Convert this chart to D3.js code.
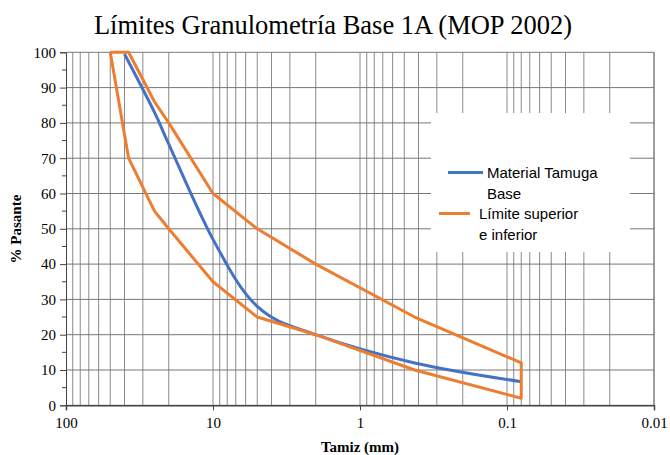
<!DOCTYPE html>
<html>
  <head>
    <meta charset="utf-8">
    <script src="https://d3js.org/d3.v7.min.js"></script>
    <style type="text/css">
      body { margin: 0; background: #ffffff; }
      svg text { fill: #000000; }
    </style>
  </head>
<body>
  <script type="text/javascript">
    // Sieve openings (mm) and % passing
    var sieves = [50, 37.5, 25, 20, 10, 5, 2, 0.425, 0.08];
    var lowerLimit = [100, 70, 55, 50, 35, 25, 20, 10, 2];
    var upperLimit = [100, 100, 86, 80, 60, 50, 40, 25, 12];

    var materialSieves = [40, 25, 20, 10, 5, 2, 0.425, 0.08];
    var materialPass = [99.5, 83, 74, 47, 28, 20, 12, 6.7];

    var xTicks = [100, 10, 1, 0.1, 0.01];
    var yTicks = [0, 10, 20, 30, 40, 50, 60, 70, 80, 90, 100];
    var seriesNames = ["Material Tamuga\nBase", "Límite superior\ne inferior"];

    var width = 670, height = 455;
    // plot area edges (note: "top" is reserved on window)
    var plotL = 66, plotR = 654, plotT = 52.3, plotB = 405.3;

    var svg = d3.select("body")
      .append("svg")
      .attr("width", width)
      .attr("height", height);

    var x = d3.scaleLog().domain([100, 0.01]).range([plotL, plotR]);
    var y = d3.scaleLinear().domain([0, 100]).range([plotB, plotT]);

    // minor log values 2..9 per decade plus decades
    var gridVals = [];
    [10, 1, 0.1, 0.01].forEach(function(d) {
      for (var k = 1; k <= 9; k++) gridVals.push(d * k);
    });

    var grid = svg.append("g").attr("class", "grid");
    grid.selectAll("line.v")
      .data(gridVals)
      .enter().append("line")
      .attr("x1", function(d) { return x(d); })
      .attr("x2", function(d) { return x(d); })
      .attr("y1", plotT)
      .attr("y2", plotB)
      .attr("stroke", "#8a8a8a")
      .attr("stroke-width", 1);

    grid.selectAll("line.h")
      .data(yTicks)
      .enter().append("line")
      .attr("x1", plotL)
      .attr("x2", plotR)
      .attr("y1", function(d) { return y(d); })
      .attr("y2", function(d) { return y(d); })
      .attr("stroke", "#777777")
      .attr("stroke-width", 1);

    // right border
    svg.append("line")
      .attr("x1", plotR).attr("x2", plotR)
      .attr("y1", plotT).attr("y2", plotB)
      .attr("stroke", "#777777");

    // legend box (white, hides the grid behind it)
    svg.append("rect")
      .attr("x", 431).attr("y", 113)
      .attr("width", 199).attr("height", 139)
      .attr("fill", "#ffffff");

    // y axis
    var yAxis = d3.axisLeft(y)
      .tickValues(yTicks)
      .tickSize(6)
      .tickPadding(4)
      .tickFormat(d3.format("d"));
    var gy = svg.append("g")
      .attr("transform", "translate(" + plotL + ",0)")
      .call(yAxis);
    gy.select(".domain").attr("stroke", "#444444");
    gy.selectAll(".tick line").attr("stroke", "#444444");
    gy.selectAll("text")
      .style("font-family", "Liberation Serif")
      .style("font-size", "15px")
      .attr("x", -10);

    // minor y ticks
    svg.append("g").selectAll("line")
      .data(d3.range(5, 100, 10))
      .enter().append("line")
      .attr("x1", plotL - 4).attr("x2", plotL)
      .attr("y1", function(d) { return y(d); })
      .attr("y2", function(d) { return y(d); })
      .attr("stroke", "#444444");

    // x axis
    var xAxis = d3.axisBottom(x)
      .tickValues(xTicks)
      .tickSize(5)
      .tickPadding(7)
      .tickFormat(function(d) { return String(d); });
    var gx = svg.append("g")
      .attr("transform", "translate(0," + plotB + ")")
      .call(xAxis);
    gx.select(".domain").attr("stroke", "#444444").attr("stroke-width", 1.5);
    gx.selectAll(".tick line").attr("stroke", "#444444");
    gx.selectAll("text")
      .style("font-family", "Liberation Serif")
      .style("font-size", "15px");

    // limits band: lower curve out, then upper curve back
    var band = [];
    sieves.forEach(function(s, i) { band.push([s, lowerLimit[i]]); });
    for (var i = sieves.length - 1; i >= 0; i--) band.push([sieves[i], upperLimit[i]]);

    var lineLinear = d3.line()
      .x(function(d) { return x(d[0]); })
      .y(function(d) { return y(d[1]); });

    var lineSmooth = d3.line()
      .x(function(d) { return x(d[0]); })
      .y(function(d) { return y(d[1]); })
      .curve(d3.curveCatmullRom.alpha(0));

    var material = materialSieves.map(function(s, i) { return [s, materialPass[i]]; });

    svg.append("path")
      .datum(material)
      .attr("d", lineSmooth)
      .attr("fill", "none")
      .attr("stroke", "#4472C4")
      .attr("stroke-width", 3);

    svg.append("path")
      .datum(band)
      .attr("d", lineLinear)
      .attr("fill", "none")
      .attr("stroke", "#ED7D31")
      .attr("stroke-width", 3)
      .attr("stroke-linejoin", "round");

    // title
    svg.append("text")
      .attr("x", 333)
      .attr("y", 34)
      .attr("text-anchor", "middle")
      .style("font-family", "Liberation Serif")
      .style("font-size", "26.5px")
      .text("Límites Granulometría Base 1A (MOP 2002)");

    // axis titles
    svg.append("text")
      .attr("x", 360)
      .attr("y", 452)
      .attr("text-anchor", "middle")
      .style("font-family", "Liberation Serif")
      .style("font-size", "15px")
      .style("font-weight", "bold")
      .text("Tamiz (mm)");

    svg.append("text")
      .attr("transform", "translate(21,229) rotate(-90)")
      .attr("text-anchor", "middle")
      .style("font-family", "Liberation Serif")
      .style("font-size", "15px")
      .style("font-weight", "bold")
      .text("% Pasante");

    // legend
    var legendItems = [
      {name: seriesNames[0], color: "#4472C4", x1: 448, x2: 483, tx: 487, ty: 172.5},
      {name: seriesNames[1], color: "#ED7D31", x1: 439, x2: 470, tx: 479, ty: 213.5}
    ];
    var lg = svg.append("g").selectAll("g")
      .data(legendItems)
      .enter().append("g");
    lg.append("line")
      .attr("x1", function(d) { return d.x1; })
      .attr("x2", function(d) { return d.x2; })
      .attr("y1", function(d) { return d.ty; })
      .attr("y2", function(d) { return d.ty; })
      .attr("stroke", function(d) { return d.color; })
      .attr("stroke-width", 3);
    lg.append("text")
      .attr("x", function(d) { return d.tx; })
      .attr("y", function(d) { return d.ty + 5.5; })
      .style("font-family", "Liberation Sans")
      .style("font-size", "15px")
      .selectAll("tspan")
      .data(function(d) { return d.name.split("\n"); })
      .enter().append("tspan")
      .attr("x", function() { return d3.select(this.parentNode).attr("x"); })
      .attr("dy", function(d, i) { return i === 0 ? 0 : 20.5; })
      .text(function(d) { return d; });
  </script>
</body>
</html>
